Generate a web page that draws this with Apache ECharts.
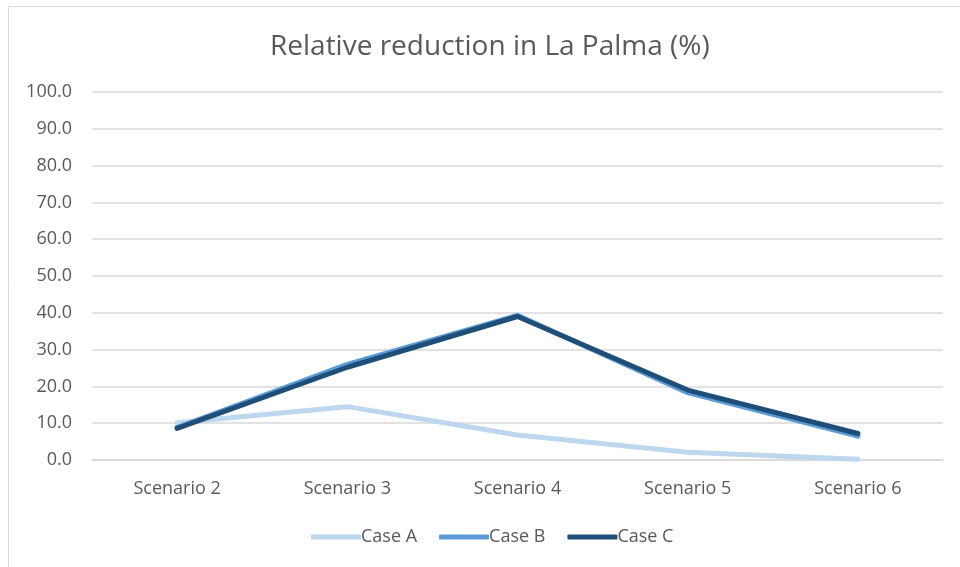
<!DOCTYPE html>
<html>
<head>
<meta charset="utf-8">
<script src="https://cdn.jsdelivr.net/npm/echarts@6/dist/echarts.min.js"></script>
<style>html,body{margin:0;padding:0;background:#fff;}#c{width:960px;height:567px;}</style>
</head>
<body>
<div id="c"></div>
<script>
var categories = ['Scenario 2', 'Scenario 3', 'Scenario 4', 'Scenario 5', 'Scenario 6'];
var caseA = [10.1, 14.5, 6.8, 2.1, 0.2];
var caseB = [8.8, 26.0, 39.3, 18.3, 6.5];
var caseC = [8.6, 25.2, 39.0, 19.0, 7.2];
var seriesNames = ['Case A', 'Case B', 'Case C'];
var colors = ['#BDD7EE', '#5B9BD5', '#1F4E79'];

var chart = echarts.init(document.getElementById('c'));
var font = 'Open Sans';
function mk(name, data, color) {
  return {
    name: name, type: 'line', data: data, symbol: 'none',
    lineStyle: { color: color, width: 5, cap: 'round', join: 'round' },
    itemStyle: { color: color }
  };
}
chart.setOption({
  animation: false,
  backgroundColor: '#fff',
  graphic: [{
    type: 'rect', shape: { x: 8.5, y: 6.5, width: 1000, height: 1000 },
    style: { fill: 'none', stroke: '#D9D9D9', lineWidth: 1 }, silent: true
  }],
  title: {
    text: 'Relative reduction in La Palma (%)', left: 265, top: 28,
    textStyle: { fontFamily: font, fontSize: 28, fontWeight: 'normal', color: '#595959' }
  },
  legend: {
    data: seriesNames, top: 523, left: 306, itemWidth: 50, itemHeight: 5, itemGap: 22,
    icon: 'roundRect',
    textStyle: { fontFamily: font, fontSize: 18, color: '#595959', padding: [0, 0, 0, -5] }
  },
  grid: { left: 92, right: 17, top: 92, bottom: 107, containLabel: false },
  xAxis: {
    type: 'category', data: categories, boundaryGap: true,
    axisLine: { show: true, lineStyle: { color: '#D9D9D9', width: 1.5 } },
    axisTick: { show: false },
    axisLabel: { fontFamily: font, fontSize: 18, color: '#595959', margin: 20 }
  },
  yAxis: {
    type: 'value', min: 0, max: 100, interval: 10,
    axisLine: { show: false }, axisTick: { show: false },
    splitLine: { lineStyle: { color: '#D9D9D9', width: 1.5 } },
    axisLabel: { fontFamily: font, fontSize: 18, color: '#595959', margin: 20,
      formatter: function (v) { return v.toFixed(1); } }
  },
  series: [mk(seriesNames[0], caseA, colors[0]), mk(seriesNames[1], caseB, colors[1]), mk(seriesNames[2], caseC, colors[2])]
});
</script>
</body>
</html>
